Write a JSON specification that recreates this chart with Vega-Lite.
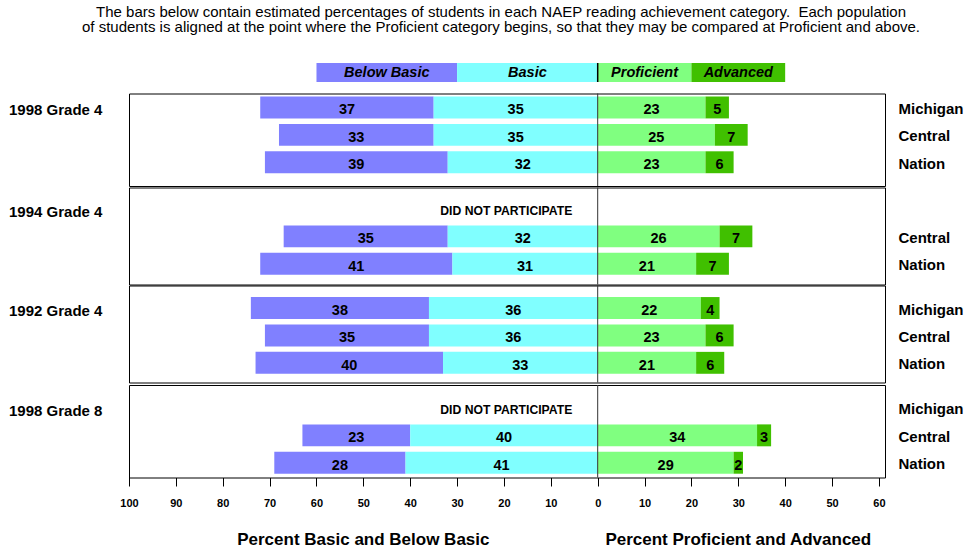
{
  "$schema": "https://vega.github.io/schema/vega-lite/v6.json",
  "autosize": {"type": "pad"},
  "padding": {"left": 8, "top": 5, "right": 0, "bottom": 0},
  "config": {
    "font": "Liberation Sans",
    "view": {"stroke": "black", "strokeWidth": 1},
    "text": {"color": "black"},
    "axis": {"labelColor": "black", "tickColor": "black"}
  },
  "title": {
    "text": ["The bars below contain estimated percentages of students in each NAEP reading achievement category.\u00a0 Each population", "of students is aligned at the point where the Proficient category begins, so that they may be compared at Proficient and above."],
    "fontSize": 15, "fontWeight": "normal", "color": "black", "lineHeight": 15,
    "anchor": "middle", "frame": "group", "offset": 27, "dx": -6
  },
  "datasets": {
    "scores": [
      {"g": "1998 Grade 4", "j": "Michigan", "lvl": "Below Basic", "pct": 37},
      {"g": "1998 Grade 4", "j": "Michigan", "lvl": "Basic", "pct": 35},
      {"g": "1998 Grade 4", "j": "Michigan", "lvl": "Proficient", "pct": 23},
      {"g": "1998 Grade 4", "j": "Michigan", "lvl": "Advanced", "pct": 5},
      {"g": "1998 Grade 4", "j": "Central", "lvl": "Below Basic", "pct": 33},
      {"g": "1998 Grade 4", "j": "Central", "lvl": "Basic", "pct": 35},
      {"g": "1998 Grade 4", "j": "Central", "lvl": "Proficient", "pct": 25},
      {"g": "1998 Grade 4", "j": "Central", "lvl": "Advanced", "pct": 7},
      {"g": "1998 Grade 4", "j": "Nation", "lvl": "Below Basic", "pct": 39},
      {"g": "1998 Grade 4", "j": "Nation", "lvl": "Basic", "pct": 32},
      {"g": "1998 Grade 4", "j": "Nation", "lvl": "Proficient", "pct": 23},
      {"g": "1998 Grade 4", "j": "Nation", "lvl": "Advanced", "pct": 6},
      {"g": "1994 Grade 4", "j": "Central", "lvl": "Below Basic", "pct": 35},
      {"g": "1994 Grade 4", "j": "Central", "lvl": "Basic", "pct": 32},
      {"g": "1994 Grade 4", "j": "Central", "lvl": "Proficient", "pct": 26},
      {"g": "1994 Grade 4", "j": "Central", "lvl": "Advanced", "pct": 7},
      {"g": "1994 Grade 4", "j": "Nation", "lvl": "Below Basic", "pct": 41},
      {"g": "1994 Grade 4", "j": "Nation", "lvl": "Basic", "pct": 31},
      {"g": "1994 Grade 4", "j": "Nation", "lvl": "Proficient", "pct": 21},
      {"g": "1994 Grade 4", "j": "Nation", "lvl": "Advanced", "pct": 7},
      {"g": "1992 Grade 4", "j": "Michigan", "lvl": "Below Basic", "pct": 38},
      {"g": "1992 Grade 4", "j": "Michigan", "lvl": "Basic", "pct": 36},
      {"g": "1992 Grade 4", "j": "Michigan", "lvl": "Proficient", "pct": 22},
      {"g": "1992 Grade 4", "j": "Michigan", "lvl": "Advanced", "pct": 4},
      {"g": "1992 Grade 4", "j": "Central", "lvl": "Below Basic", "pct": 35},
      {"g": "1992 Grade 4", "j": "Central", "lvl": "Basic", "pct": 36},
      {"g": "1992 Grade 4", "j": "Central", "lvl": "Proficient", "pct": 23},
      {"g": "1992 Grade 4", "j": "Central", "lvl": "Advanced", "pct": 6},
      {"g": "1992 Grade 4", "j": "Nation", "lvl": "Below Basic", "pct": 40},
      {"g": "1992 Grade 4", "j": "Nation", "lvl": "Basic", "pct": 33},
      {"g": "1992 Grade 4", "j": "Nation", "lvl": "Proficient", "pct": 21},
      {"g": "1992 Grade 4", "j": "Nation", "lvl": "Advanced", "pct": 6},
      {"g": "1998 Grade 8", "j": "Central", "lvl": "Below Basic", "pct": 23},
      {"g": "1998 Grade 8", "j": "Central", "lvl": "Basic", "pct": 40},
      {"g": "1998 Grade 8", "j": "Central", "lvl": "Proficient", "pct": 34},
      {"g": "1998 Grade 8", "j": "Central", "lvl": "Advanced", "pct": 3},
      {"g": "1998 Grade 8", "j": "Nation", "lvl": "Below Basic", "pct": 28},
      {"g": "1998 Grade 8", "j": "Nation", "lvl": "Basic", "pct": 41},
      {"g": "1998 Grade 8", "j": "Nation", "lvl": "Proficient", "pct": 29},
      {"g": "1998 Grade 8", "j": "Nation", "lvl": "Advanced", "pct": 2}
    ],
    "legend": [
      {"lvl": "Below Basic", "pct": 30},
      {"lvl": "Basic", "pct": 30},
      {"lvl": "Proficient", "pct": 20},
      {"lvl": "Advanced", "pct": 20}
    ]
  },
  "bounds": "flat",
  "spacing": 9.5,
  "vconcat": [
    {
      "width": 756, "height": 19,
      "view": {"stroke": null},
      "layer": [
        {
          "data": {"name": "legend"},
          "transform": [
            {"calculate": "indexof(['Basic','Below Basic','Proficient','Advanced'], datum.lvl)", "as": "rank"},
            {"calculate": "datum.rank < 2 ? -datum.pct : datum.pct", "as": "v"},
            {"stack": "v", "groupby": [], "sort": [{"field": "rank", "order": "ascending"}], "as": ["x0", "x1"]},
            {"calculate": "(datum.x0 + datum.x1) / 2", "as": "xm"}
          ],
          "mark": {"type": "bar"},
          "encoding": {
            "x": {"field": "x0", "type": "quantitative", "scale": {"domain": [-100, 61.3], "nice": false, "zero": false}, "axis": null},
            "x2": {"field": "x1"},
            "y": {"datum": "legend", "type": "nominal", "scale": {"paddingInner": 0, "paddingOuter": 0}, "axis": null},
            "color": {"field": "lvl", "type": "nominal", "scale": {"domain": ["Below Basic", "Basic", "Proficient", "Advanced"], "range": ["#8080FF", "#80FFFF", "#80FF80", "#40C000"]}, "legend": null}
          }
        },
        {
          "data": {"name": "legend"},
          "transform": [
            {"calculate": "indexof(['Basic','Below Basic','Proficient','Advanced'], datum.lvl)", "as": "rank"},
            {"calculate": "datum.rank < 2 ? -datum.pct : datum.pct", "as": "v"},
            {"stack": "v", "groupby": [], "sort": [{"field": "rank", "order": "ascending"}], "as": ["x0", "x1"]},
            {"calculate": "(datum.x0 + datum.x1) / 2", "as": "xm"}
          ],
          "mark": {"type": "text", "fontSize": 14.5, "fontWeight": "bold", "fontStyle": "italic", "baseline": "middle"},
          "encoding": {
            "x": {"field": "xm", "type": "quantitative", "scale": {"domain": [-100, 61.3], "nice": false, "zero": false}, "axis": null},
            "text": {"field": "lvl"}
          }
        },
        {
          "data": {"values": [{}]},
          "mark": {"type": "rule", "color": "black", "strokeWidth": 1.5},
          "encoding": {"x": {"datum": 0, "type": "quantitative", "scale": {"domain": [-100, 61.3], "nice": false, "zero": false}, "axis": null}}
        }
      ]
    },
    {
      "bounds": "flat",
      "spacing": 50,
      "vconcat": [
        {
          "bounds": "flat",
          "spacing": 0.5,
          "vconcat": [
            {
              "bounds": "flat",
              "spacing": -3,
              "vconcat": [
                {
                  "width": 756, "height": 92.5,
                  "layer": [
                    {
                      "data": {"name": "scores"},
                      "transform": [
                        {"filter": "datum.g === '1998 Grade 4'"},
                        {"calculate": "indexof(['Basic','Below Basic','Proficient','Advanced'], datum.lvl)", "as": "rank"},
                        {"calculate": "datum.rank < 2 ? -datum.pct : datum.pct", "as": "v"},
                        {"stack": "v", "groupby": ["j"], "sort": [{"field": "rank", "order": "ascending"}], "as": ["x0", "x1"]},
                        {"calculate": "(datum.x0 + datum.x1) / 2", "as": "xm"}
                      ],
                      "mark": {"type": "bar"},
                      "encoding": {
                        "x": {"field": "x0", "type": "quantitative", "scale": {"domain": [-100, 61.3], "nice": false, "zero": false}, "axis": null},
                        "x2": {"field": "x1"},
                        "y": {"field": "j", "type": "nominal", "scale": {"domain": ["Michigan", "Central", "Nation"], "paddingInner": 0.2, "paddingOuter": 0.288, "align": 0.19},
                          "axis": {"orient": "right", "title": null, "ticks": false, "tickSize": 0, "domain": false, "labelPadding": 13, "labelAlign": "left", "labelBaseline": "middle", "labelOffset": 1.5, "labelFontSize": 15, "labelFontWeight": "bold", "labelColor": "black"}},
                        "color": {"field": "lvl", "type": "nominal", "scale": {"domain": ["Below Basic", "Basic", "Proficient", "Advanced"], "range": ["#8080FF", "#80FFFF", "#80FF80", "#40C000"]}, "legend": null}
                      }
                    },
                    {
                      "data": {"name": "scores"},
                      "transform": [
                        {"filter": "datum.g === '1998 Grade 4'"},
                        {"calculate": "indexof(['Basic','Below Basic','Proficient','Advanced'], datum.lvl)", "as": "rank"},
                        {"calculate": "datum.rank < 2 ? -datum.pct : datum.pct", "as": "v"},
                        {"stack": "v", "groupby": ["j"], "sort": [{"field": "rank", "order": "ascending"}], "as": ["x0", "x1"]},
                        {"calculate": "(datum.x0 + datum.x1) / 2", "as": "xm"}
                      ],
                      "mark": {"type": "text", "fontSize": 14.5, "fontWeight": "bold", "baseline": "middle", "dy": 3},
                      "encoding": {
                        "x": {"field": "xm", "type": "quantitative", "scale": {"domain": [-100, 61.3], "nice": false, "zero": false}, "axis": null},
                        "y": {"field": "j", "type": "nominal", "scale": {"domain": ["Michigan", "Central", "Nation"], "paddingInner": 0.2, "paddingOuter": 0.288, "align": 0.19}},
                        "text": {"field": "pct"}
                      }
                    },
                    {
                      "data": {"values": [{"label": "1998 Grade 4", "j": "Michigan"}]},
                      "mark": {"type": "text", "fontSize": 15, "fontWeight": "bold", "align": "left", "baseline": "middle", "dx": -120, "dy": 3},
                      "encoding": {
                        "x": {"datum": -100, "type": "quantitative", "scale": {"domain": [-100, 61.3], "nice": false, "zero": false}, "axis": null},
                        "y": {"field": "j", "type": "nominal", "scale": {"domain": ["Michigan", "Central", "Nation"], "paddingInner": 0.2, "paddingOuter": 0.288, "align": 0.19}},
                        "text": {"field": "label"}
                      }
                    },
                    {
                      "data": {"values": [{}]},
                      "mark": {"type": "rule", "color": "#333333", "strokeWidth": 1},
                      "encoding": {"x": {"datum": 0, "type": "quantitative", "scale": {"domain": [-100, 61.3], "nice": false, "zero": false}, "axis": null}}
                    }
                  ]
                },
                {
                  "width": 756, "height": 97,
                  "layer": [
                    {
                      "data": {"name": "scores"},
                      "transform": [
                        {"filter": "datum.g === '1994 Grade 4'"},
                        {"calculate": "indexof(['Basic','Below Basic','Proficient','Advanced'], datum.lvl)", "as": "rank"},
                        {"calculate": "datum.rank < 2 ? -datum.pct : datum.pct", "as": "v"},
                        {"stack": "v", "groupby": ["j"], "sort": [{"field": "rank", "order": "ascending"}], "as": ["x0", "x1"]},
                        {"calculate": "(datum.x0 + datum.x1) / 2", "as": "xm"}
                      ],
                      "mark": {"type": "bar"},
                      "encoding": {
                        "x": {"field": "x0", "type": "quantitative", "scale": {"domain": [-100, 61.3], "nice": false, "zero": false}, "axis": null},
                        "x2": {"field": "x1"},
                        "y": {"field": "j", "type": "nominal", "scale": {"domain": ["Michigan", "Central", "Nation"], "paddingInner": 0.2, "paddingOuter": 0.37, "align": 0.517},
                          "axis": {"orient": "right", "title": null, "ticks": false, "tickSize": 0, "domain": false, "labelPadding": 13, "labelAlign": "left", "labelBaseline": "middle", "labelOffset": 1.5, "labelFontSize": 15, "labelFontWeight": "bold", "labelColor": "black", "labelExpr": "datum.value === 'Michigan' ? '' : datum.value"}},
                        "color": {"field": "lvl", "type": "nominal", "scale": {"domain": ["Below Basic", "Basic", "Proficient", "Advanced"], "range": ["#8080FF", "#80FFFF", "#80FF80", "#40C000"]}, "legend": null}
                      }
                    },
                    {
                      "data": {"name": "scores"},
                      "transform": [
                        {"filter": "datum.g === '1994 Grade 4'"},
                        {"calculate": "indexof(['Basic','Below Basic','Proficient','Advanced'], datum.lvl)", "as": "rank"},
                        {"calculate": "datum.rank < 2 ? -datum.pct : datum.pct", "as": "v"},
                        {"stack": "v", "groupby": ["j"], "sort": [{"field": "rank", "order": "ascending"}], "as": ["x0", "x1"]},
                        {"calculate": "(datum.x0 + datum.x1) / 2", "as": "xm"}
                      ],
                      "mark": {"type": "text", "fontSize": 14.5, "fontWeight": "bold", "baseline": "middle", "dy": 3},
                      "encoding": {
                        "x": {"field": "xm", "type": "quantitative", "scale": {"domain": [-100, 61.3], "nice": false, "zero": false}, "axis": null},
                        "y": {"field": "j", "type": "nominal", "scale": {"domain": ["Michigan", "Central", "Nation"], "paddingInner": 0.2, "paddingOuter": 0.37, "align": 0.517}},
                        "text": {"field": "pct"}
                      }
                    },
                    {
                      "data": {"values": [{"label": "1994 Grade 4", "j": "Michigan"}]},
                      "mark": {"type": "text", "fontSize": 15, "fontWeight": "bold", "align": "left", "baseline": "middle", "dx": -120, "dy": 3},
                      "encoding": {
                        "x": {"datum": -100, "type": "quantitative", "scale": {"domain": [-100, 61.3], "nice": false, "zero": false}, "axis": null},
                        "y": {"field": "j", "type": "nominal", "scale": {"domain": ["Michigan", "Central", "Nation"], "paddingInner": 0.2, "paddingOuter": 0.37, "align": 0.517}},
                        "text": {"field": "label"}
                      }
                    },
                    {
                      "data": {"values": [{"note": "DID NOT PARTICIPATE", "j": "Michigan"}]},
                      "mark": {"type": "text", "fontSize": 12.2, "fontWeight": "bold", "align": "center", "baseline": "middle", "dy": 2.5},
                      "encoding": {
                        "x": {"datum": -19.5, "type": "quantitative", "scale": {"domain": [-100, 61.3], "nice": false, "zero": false}, "axis": null},
                        "y": {"field": "j", "type": "nominal", "scale": {"domain": ["Michigan", "Central", "Nation"], "paddingInner": 0.2, "paddingOuter": 0.37, "align": 0.517}},
                        "text": {"field": "note"}
                      }
                    },
                    {
                      "data": {"values": [{}]},
                      "mark": {"type": "rule", "color": "#333333", "strokeWidth": 1},
                      "encoding": {"x": {"datum": 0, "type": "quantitative", "scale": {"domain": [-100, 61.3], "nice": false, "zero": false}, "axis": null}}
                    }
                  ]
                },
                {
                  "width": 756, "height": 97,
                  "layer": [
                    {
                      "data": {"name": "scores"},
                      "transform": [
                        {"filter": "datum.g === '1992 Grade 4'"},
                        {"calculate": "indexof(['Basic','Below Basic','Proficient','Advanced'], datum.lvl)", "as": "rank"},
                        {"calculate": "datum.rank < 2 ? -datum.pct : datum.pct", "as": "v"},
                        {"stack": "v", "groupby": ["j"], "sort": [{"field": "rank", "order": "ascending"}], "as": ["x0", "x1"]},
                        {"calculate": "(datum.x0 + datum.x1) / 2", "as": "xm"}
                      ],
                      "mark": {"type": "bar"},
                      "encoding": {
                        "x": {"field": "x0", "type": "quantitative", "scale": {"domain": [-100, 61.3], "nice": false, "zero": false}, "axis": null},
                        "x2": {"field": "x1"},
                        "y": {"field": "j", "type": "nominal", "scale": {"domain": ["Michigan", "Central", "Nation"], "paddingInner": 0.2, "paddingOuter": 0.37, "align": 0.57},
                          "axis": {"orient": "right", "title": null, "ticks": false, "tickSize": 0, "domain": false, "labelPadding": 13, "labelAlign": "left", "labelBaseline": "middle", "labelOffset": 1.5, "labelFontSize": 15, "labelFontWeight": "bold", "labelColor": "black"}},
                        "color": {"field": "lvl", "type": "nominal", "scale": {"domain": ["Below Basic", "Basic", "Proficient", "Advanced"], "range": ["#8080FF", "#80FFFF", "#80FF80", "#40C000"]}, "legend": null}
                      }
                    },
                    {
                      "data": {"name": "scores"},
                      "transform": [
                        {"filter": "datum.g === '1992 Grade 4'"},
                        {"calculate": "indexof(['Basic','Below Basic','Proficient','Advanced'], datum.lvl)", "as": "rank"},
                        {"calculate": "datum.rank < 2 ? -datum.pct : datum.pct", "as": "v"},
                        {"stack": "v", "groupby": ["j"], "sort": [{"field": "rank", "order": "ascending"}], "as": ["x0", "x1"]},
                        {"calculate": "(datum.x0 + datum.x1) / 2", "as": "xm"}
                      ],
                      "mark": {"type": "text", "fontSize": 14.5, "fontWeight": "bold", "baseline": "middle", "dy": 3},
                      "encoding": {
                        "x": {"field": "xm", "type": "quantitative", "scale": {"domain": [-100, 61.3], "nice": false, "zero": false}, "axis": null},
                        "y": {"field": "j", "type": "nominal", "scale": {"domain": ["Michigan", "Central", "Nation"], "paddingInner": 0.2, "paddingOuter": 0.37, "align": 0.57}},
                        "text": {"field": "pct"}
                      }
                    },
                    {
                      "data": {"values": [{"label": "1992 Grade 4", "j": "Michigan"}]},
                      "mark": {"type": "text", "fontSize": 15, "fontWeight": "bold", "align": "left", "baseline": "middle", "dx": -120, "dy": 3},
                      "encoding": {
                        "x": {"datum": -100, "type": "quantitative", "scale": {"domain": [-100, 61.3], "nice": false, "zero": false}, "axis": null},
                        "y": {"field": "j", "type": "nominal", "scale": {"domain": ["Michigan", "Central", "Nation"], "paddingInner": 0.2, "paddingOuter": 0.37, "align": 0.57}},
                        "text": {"field": "label"}
                      }
                    },
                    {
                      "data": {"values": [{}]},
                      "mark": {"type": "rule", "color": "#333333", "strokeWidth": 1},
                      "encoding": {"x": {"datum": 0, "type": "quantitative", "scale": {"domain": [-100, 61.3], "nice": false, "zero": false}, "axis": null}}
                    }
                  ]
                }
              ]
            },
            {
              "width": 756, "height": 92.5,
              "layer": [
                {
                  "data": {"name": "scores"},
                  "transform": [
                    {"filter": "datum.g === '1998 Grade 8'"},
                    {"calculate": "indexof(['Basic','Below Basic','Proficient','Advanced'], datum.lvl)", "as": "rank"},
                    {"calculate": "datum.rank < 2 ? -datum.pct : datum.pct", "as": "v"},
                    {"stack": "v", "groupby": ["j"], "sort": [{"field": "rank", "order": "ascending"}], "as": ["x0", "x1"]},
                    {"calculate": "(datum.x0 + datum.x1) / 2", "as": "xm"}
                  ],
                  "mark": {"type": "bar"},
                  "encoding": {
                    "x": {"field": "x0", "type": "quantitative", "scale": {"domain": [-100, 61.3], "nice": false, "zero": false},
                      "axis": {"orient": "bottom", "values": [-100, -90, -80, -70, -60, -50, -40, -30, -20, -10, 0, 10, 20, 30, 40, 50, 60], "labelExpr": "abs(datum.value)", "title": null, "domain": false, "ticks": true, "tickSize": 8.5, "tickColor": "black", "labelFontSize": 11, "labelFontWeight": "bold", "labelPadding": 11, "labelFlush": false, "labelOverlap": false, "grid": false, "labelColor": "black"}},
                    "x2": {"field": "x1"},
                    "y": {"field": "j", "type": "nominal", "scale": {"domain": ["Michigan", "Central", "Nation"], "paddingInner": 0.2, "paddingOuter": 0.288, "align": 0.76},
                      "axis": {"orient": "right", "title": null, "ticks": false, "tickSize": 0, "domain": false, "labelPadding": 13, "labelAlign": "left", "labelBaseline": "middle", "labelOffset": 1.5, "labelFontSize": 15, "labelFontWeight": "bold", "labelColor": "black"}},
                    "color": {"field": "lvl", "type": "nominal", "scale": {"domain": ["Below Basic", "Basic", "Proficient", "Advanced"], "range": ["#8080FF", "#80FFFF", "#80FF80", "#40C000"]}, "legend": null}
                  }
                },
                {
                  "data": {"name": "scores"},
                  "transform": [
                    {"filter": "datum.g === '1998 Grade 8'"},
                    {"calculate": "indexof(['Basic','Below Basic','Proficient','Advanced'], datum.lvl)", "as": "rank"},
                    {"calculate": "datum.rank < 2 ? -datum.pct : datum.pct", "as": "v"},
                    {"stack": "v", "groupby": ["j"], "sort": [{"field": "rank", "order": "ascending"}], "as": ["x0", "x1"]},
                    {"calculate": "(datum.x0 + datum.x1) / 2", "as": "xm"}
                  ],
                  "mark": {"type": "text", "fontSize": 14.5, "fontWeight": "bold", "baseline": "middle", "dy": 3},
                  "encoding": {
                    "x": {"field": "xm", "type": "quantitative", "scale": {"domain": [-100, 61.3], "nice": false, "zero": false}},
                    "y": {"field": "j", "type": "nominal", "scale": {"domain": ["Michigan", "Central", "Nation"], "paddingInner": 0.2, "paddingOuter": 0.288, "align": 0.76}},
                    "text": {"field": "pct"}
                  }
                },
                {
                  "data": {"values": [{"label": "1998 Grade 8", "j": "Michigan"}]},
                  "mark": {"type": "text", "fontSize": 15, "fontWeight": "bold", "align": "left", "baseline": "middle", "dx": -120, "dy": 3},
                  "encoding": {
                    "x": {"datum": -100, "type": "quantitative", "scale": {"domain": [-100, 61.3], "nice": false, "zero": false}},
                    "y": {"field": "j", "type": "nominal", "scale": {"domain": ["Michigan", "Central", "Nation"], "paddingInner": 0.2, "paddingOuter": 0.288, "align": 0.76}},
                    "text": {"field": "label"}
                  }
                },
                {
                  "data": {"values": [{"note": "DID NOT PARTICIPATE", "j": "Michigan"}]},
                  "mark": {"type": "text", "fontSize": 12.2, "fontWeight": "bold", "align": "center", "baseline": "middle", "dy": 2.5},
                  "encoding": {
                    "x": {"datum": -19.5, "type": "quantitative", "scale": {"domain": [-100, 61.3], "nice": false, "zero": false}},
                    "y": {"field": "j", "type": "nominal", "scale": {"domain": ["Michigan", "Central", "Nation"], "paddingInner": 0.2, "paddingOuter": 0.288, "align": 0.76}},
                    "text": {"field": "note"}
                  }
                },
                {
                  "data": {"values": [{"t": "Percent Basic and Below Basic", "j": "Nation"}]},
                  "mark": {"type": "text", "fontSize": 17, "fontWeight": "bold", "align": "center", "baseline": "middle", "dy": 77},
                  "encoding": {
                    "x": {"datum": -50, "type": "quantitative", "scale": {"domain": [-100, 61.3], "nice": false, "zero": false}},
                    "y": {"field": "j", "type": "nominal", "scale": {"domain": ["Michigan", "Central", "Nation"], "paddingInner": 0.2, "paddingOuter": 0.288, "align": 0.76}},
                    "text": {"field": "t"}
                  }
                },
                {
                  "data": {"values": [{"t": "Percent Proficient and Advanced", "j": "Nation"}]},
                  "mark": {"type": "text", "fontSize": 17, "fontWeight": "bold", "align": "center", "baseline": "middle", "dy": 77},
                  "encoding": {
                    "x": {"datum": 30, "type": "quantitative", "scale": {"domain": [-100, 61.3], "nice": false, "zero": false}},
                    "y": {"field": "j", "type": "nominal", "scale": {"domain": ["Michigan", "Central", "Nation"], "paddingInner": 0.2, "paddingOuter": 0.288, "align": 0.76}},
                    "text": {"field": "t"}
                  }
                },
                {
                  "data": {"values": [{}]},
                  "mark": {"type": "rule", "color": "#333333", "strokeWidth": 1},
                  "encoding": {"x": {"datum": 0, "type": "quantitative", "scale": {"domain": [-100, 61.3], "nice": false, "zero": false}}}
                }
              ]
            }
          ]
        }
      ]
    }
  ]
}
